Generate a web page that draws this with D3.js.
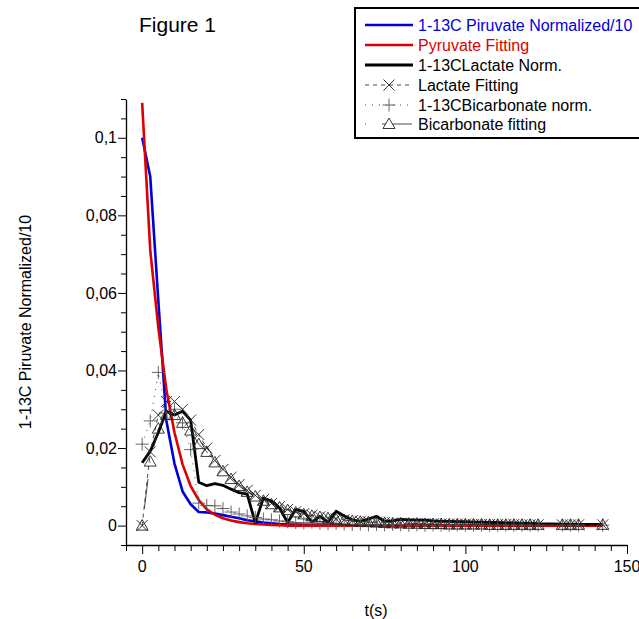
<!DOCTYPE html>
<html><head><meta charset="utf-8">
<script src="https://cdn.jsdelivr.net/npm/d3@7"></script>
<style>body{margin:0;background:#fff}svg{display:block}text{font-family:Arial,"Liberation Sans",sans-serif}</style>
</head><body>
<svg id="c" width="639" height="619"></svg>
<script>
const times = [0,2.5,5,7.5,10,12.5,15,17.5,20,22.5,25,27.5,30,32.5,35,37.5,40,42.5,45,47.5,50,52.5,55,57.5,60,62.5,65,67.5,70,72.5,75,77.5,80,82.5,85,87.5,90,92.5,95,97.5,100,102.5,105,107.5,110,112.5,115,117.5,120,122.5,130,132.5,135,142.5];
const pyruvateNorm = [0.100,0.090,0.058,0.027,0.016,0.0088,0.0055,0.0035,0.0034,0.0031,0.0027,0.0023,0.0019,0.0014,0.0011,0.0008,0.0006,0.0004,0.0003,0.0003,0.0002,0.0002,0.0002,0.0002,0.0001,0.0001,0.0001,0.0001,0.0001,0.0001,0.0001,0.0001,0.0001,0.0001,0.0001,0.0001,0.0001,0.0001,0.0001,0.0001,0.0001,0.0001,0.0001,0.0001,0.0001,0.0001,0.0001,0.0001,0.0001,0.0001,0.0001,0.0001,0.0001,0.0001];
const pyruvateFit = [0.109,0.071,0.051,0.035,0.024,0.0158,0.0102,0.0066,0.0042,0.0028,0.0019,0.0013,0.0009,0.0006,0.0004,0.0003,0.0002,0.0001,0,0,0,0,0,0,0,0,0,0,0,0,0,0,0,0,0,0,0,0,0,0,0,0,0,0,0,0,0,0,0,0,0,0,0,0];
const lactateNorm = [0.0162,0.0192,0.024,0.0295,0.0285,0.0295,0.0272,0.0112,0.0103,0.0108,0.0104,0.0094,0.0085,0.0081,0.0007,0.0071,0.0063,0.0045,0.0008,0.0041,0.0037,0.0009,0.0024,0.0009,0.0037,0.0025,0.0015,0.0011,0.0017,0.0024,0.0011,0.0012,0.0016,0.0015,0.0014,0.0014,0.0012,0.0011,0.0011,0.0010,0.0010,0.0009,0.0009,0.0008,0.0008,0.0007,0.0007,0.0006,0.0006,0.0005,0.0004,0.0004,0.0003,0.0003];
const lactateFit = [0,0.019,0.0285,0.032,0.032,0.030,0.0272,0.0235,0.0200,0.0168,0.0145,0.0125,0.0106,0.0091,0.0078,0.0067,0.0057,0.0049,0.0042,0.0036,0.0031,0.0027,0.0023,0.0020,0.0017,0.0015,0.0013,0.0011,0.0010,0.0009,0.0008,0.0007,0.0006,0.0006,0.0005,0.0005,0.0005,0.0004,0.0004,0.0004,0.0004,0.0003,0.0003,0.0003,0.0003,0.0003,0.0003,0.0002,0.0002,0.0002,0.0002,0.0002,0.0002,0.0002];
const bicarbNorm = [0.021,0.027,0.0395,0.029,0.030,0.0265,0.0196,0.0058,0.0052,0.0051,0.0044,0.0035,0.0030,0.0025,0.0021,0.0017,0.0015,0.0012,0.0010,0.0008,0.0007,0.0009,0.0006,0.0005,0.0006,0.0004,0.0003,0.0004,0.0002,0.0003,0.0002,0.0003,0.0002,0.0001,0.0002,0.0001,0.0002,0.0001,0.0001,0.0002,0.0001,0.0001,0.0001,0.0001,0.0001,0.0001,0.0001,0.0001,0.0001,0.0001,0.0001,0.0001,0.0001,0.0001];
const bicarbFit = [0,0.0165,0.0250,0.0285,0.0285,0.0265,0.0245,0.0210,0.0190,0.0163,0.0140,0.0120,0.0102,0.0087,0.0075,0.0064,0.0055,0.0047,0.0040,0.0034,0.0029,0.0025,0.0022,0.0019,0.0016,0.0014,0.0012,0.0010,0.0009,0.0008,0.0007,0.0006,0.0006,0.0005,0.0005,0.0004,0.0004,0.0004,0.0003,0.0003,0.0003,0.0003,0.0003,0.0002,0.0002,0.0002,0.0002,0.0002,0.0002,0.0002,0.0002,0.0002,0.0002,0.0002];
const xTickLabels = [0,50,100,150];
const yTickLabels = ["0","0,02","0,04","0,06","0,08","0,1"];
const legendLabels = ["1-13C Piruvate Normalized/10","Pyruvate Fitting","1-13CLactate Norm.","Lactate Fitting","1-13CBicarbonate norm.","Bicarbonate fitting"];

const svg = d3.select("#c");
const x = d3.scaleLinear().domain([-5,150]).range([126,627]);
const y = d3.scaleLinear().domain([-0.005,0.11]).range([545,99]);
const FONT = 16;

// axes
const yMinor = d3.range(-0.005, 0.1101, 0.005);
const yMajor = [0,0.02,0.04,0.06,0.08,0.1];
const yAxis = d3.axisLeft(y).tickValues(yMinor).tickSizeOuter(0).tickFormat("");
const gy = svg.append("g").attr("transform","translate(126,0)").call(yAxis);
gy.selectAll(".tick line").attr("x2", d => yMajor.some(m=>Math.abs(m-d)<1e-9) ? -8 : -5);
const xMinor = d3.range(-5, 150.01, 5);
const xAxis = d3.axisBottom(x).tickValues(xMinor).tickSizeOuter(0).tickFormat("");
const gx = svg.append("g").attr("transform","translate(0,545)").call(xAxis);
gx.selectAll(".tick line").attr("y2", d => xTickLabels.includes(d) ? 9 : 6);
[gx,gy].forEach(g=>{g.select(".domain").attr("stroke","#000").attr("stroke-width",1.3);g.selectAll(".tick line").attr("stroke","#000").attr("stroke-width",1);});

svg.append("g").selectAll("text").data(yMajor).join("text")
  .attr("x",117).attr("y",d=>y(d)).attr("dy","0.35em").attr("text-anchor","end")
  .attr("font-size",FONT).text((d,i)=>yTickLabels[i]);
svg.append("g").selectAll("text").data(xTickLabels).join("text")
  .attr("x",d=>x(d)).attr("y",572).attr("text-anchor","middle")
  .attr("font-size",FONT).text(d=>d);

svg.append("text").attr("x",139).attr("y",32).attr("font-size",21).text("Figure 1");
svg.append("text").attr("x",376).attr("y",616).attr("text-anchor","middle").attr("font-size",FONT).text("t(s)");
svg.append("text").attr("transform","translate(31,322) rotate(-90)").attr("text-anchor","middle").attr("font-size",FONT).text("1-13C Piruvate Normalized/10");

// series
const series = [
  {vals:pyruvateNorm, color:"#0000dd", w:2.6, dash:null, marker:null},
  {vals:pyruvateFit, color:"#dd0000", w:2.6, dash:null, marker:null},
  {vals:lactateNorm, color:"#000", w:2.8, dash:null, marker:null},
  {vals:lactateFit, color:"#333", w:0.9, dash:"4,4", marker:"x"},
  {vals:bicarbNorm, color:"#333", w:0.9, dash:"1,6", marker:"+"},
  {vals:bicarbFit, color:"#333", w:0.9, dash:"1,16,30,16", marker:"tri"}
];
const line = d3.line().x(d=>x(d[0])).y(d=>y(d[1]));
function markerPath(type, cx, cy){
  const s=5.5;
  if(type==="x") return `M${cx-s},${cy-s}L${cx+s},${cy+s}M${cx-s},${cy+s}L${cx+s},${cy-s}`;
  if(type==="+") return `M${cx-s-1},${cy}L${cx+s+1},${cy}M${cx},${cy-s-1}L${cx},${cy+s+1}`;
  return `M${cx},${cy-6}L${cx+6},${cy+4.5}L${cx-6},${cy+4.5}Z`;
}
series.forEach(s=>{
  const pts = times.map((t,i)=>[t,s.vals[i]]);
  svg.append("path").attr("d",line(pts)).attr("fill","none").attr("stroke",s.color)
    .attr("stroke-width",s.w).attr("stroke-linejoin","round").attr("stroke-dasharray",s.dash);
  if(s.marker){
    svg.append("g").selectAll("path").data(pts).join("path")
      .attr("d",d=>markerPath(s.marker,x(d[0]),y(d[1])))
      .attr("fill","none")
      .attr("stroke", s.marker==="+" ? "#555" : "#222").attr("stroke-width",0.9);
  }
});

// legend
const lg = svg.append("g");
lg.append("rect").attr("x",355).attr("y",8).attr("width",300).attr("height",130)
  .attr("fill","#fff").attr("stroke","#000").attr("stroke-width",2);
const rowY = [25,45,65,85,105,124];
const textColors = ["#0000dd","#dd0000","#000","#000","#000","#000"];
series.forEach((s,i)=>{
  const yy = rowY[i];
  lg.append("line").attr("x1",365).attr("x2",413).attr("y1",yy).attr("y2",yy)
    .attr("stroke",s.color).attr("stroke-width",s.w).attr("stroke-dasharray",s.dash);
  if(s.marker){
    lg.append("path").attr("d",markerPath(s.marker,389,yy)).attr("fill","#fff")
      .attr("stroke", s.marker==="+" ? "#555" : "#222").attr("stroke-width",0.9);
  }
  lg.append("text").attr("x",418).attr("y",yy).attr("dy","0.35em").attr("font-size",FONT)
    .attr("fill",textColors[i]).text(legendLabels[i]);
});
</script>
</body></html>
